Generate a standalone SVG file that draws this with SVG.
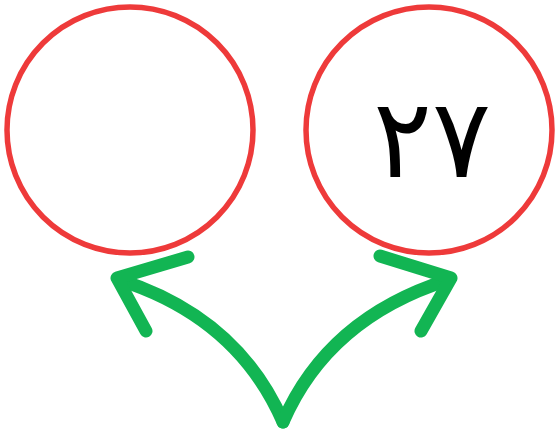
<svg xmlns="http://www.w3.org/2000/svg" width="560" height="444" viewBox="0 0 560 444">
<style>
.node{fill:#fff;stroke:#ee3a3a;stroke-width:5.5}
.arr{fill:none;stroke:#12b553;stroke-width:13;stroke-linecap:round;stroke-linejoin:round}
.lbl{font-family:"DejaVu Sans",sans-serif;font-size:110px;fill:#000;text-anchor:middle}
</style>
<rect width="560" height="444" fill="#fff"/>
<g id="node-left"><circle class="node" cx="130" cy="130" r="123"/></g>
<g id="node-right"><circle class="node" cx="429" cy="130" r="123"/><text class="lbl" x="432" y="177">٢٧</text></g>
<g id="connectors">
<path class="arr" d="M283,422 Q238,318 120,280"/>
<polyline class="arr" points="188,257 117,278 146,331"/>
<path class="arr" d="M283,422 Q328,318 448,280"/>
<polyline class="arr" points="380,256 451,278 421,331"/>
</g>
</svg>
